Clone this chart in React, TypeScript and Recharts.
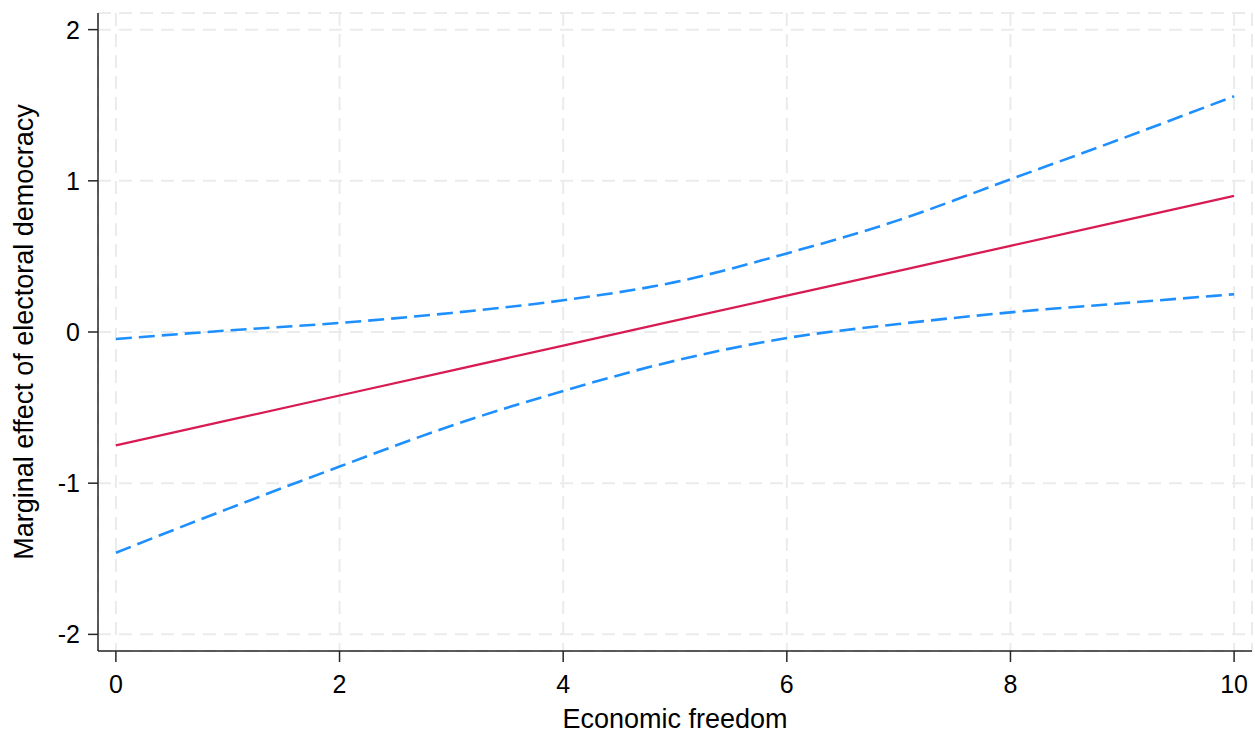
import { CartesianGrid, Line, LineChart, XAxis, YAxis } from 'recharts';

const freedom = [0, 1, 2, 3, 4, 5, 6, 7, 8, 9, 10];
const effect = [-0.75, -0.585, -0.42, -0.255, -0.09, 0.075, 0.24, 0.405, 0.57, 0.735, 0.9];
const upperCi = [-0.046, 0.01, 0.06, 0.126, 0.21, 0.33, 0.52, 0.74, 1.01, 1.28, 1.56];
const lowerCi = [-1.46, -1.17, -0.89, -0.62, -0.39, -0.19, -0.04, 0.053, 0.13, 0.19, 0.25];

const xTicks = [0, 2, 4, 6, 8, 10];
const yTicks = [-2, -1, 0, 1, 2];

const data = freedom.map((x, i) => ({ x, effect: effect[i], upper: upperCi[i], lower: lowerCi[i] }));

const font = '"Liberation Sans", Arial, sans-serif';
const axisColor = '#262626';

export default function App() {
  return (
    <div style={{ position: 'absolute', left: 0, top: 0, background: '#fff', fontFamily: font }}>
      <LineChart width={1255} height={742} data={data} margin={{ top: 13, right: 3, left: 0, bottom: 0 }}>
        <CartesianGrid stroke="#ebebeb" strokeWidth={2} strokeDasharray="13 8" />
        <XAxis
          dataKey="x"
          type="number"
          domain={[-0.16, 10.16]}
          ticks={xTicks}
          height={91}
          tickSize={11}
          tickMargin={13}
          stroke={axisColor}
          strokeWidth={1.5}
          tick={{ fill: '#000', fontSize: 25, fontFamily: font }}
          label={{ value: 'Economic freedom', position: 'insideBottom', offset: 14, fill: '#000', fontSize: 27, fontFamily: font }}
        />
        <YAxis
          type="number"
          domain={[-2.11, 2.11]}
          ticks={yTicks}
          width={98}
          tickSize={10}
          tickMargin={8}
          stroke={axisColor}
          strokeWidth={1.5}
          tick={{ fill: '#000', fontSize: 25, fontFamily: font }}
          label={{
            value: 'Marginal effect of electoral democracy',
            angle: -90,
            position: 'insideLeft',
            offset: 23,
            style: { textAnchor: 'middle' },
            fill: '#000',
            fontSize: 27,
            fontFamily: font,
          }}
        />
        <Line type="monotone" dataKey="upper" stroke="#1e8fff" strokeWidth={2.6} strokeDasharray="16 7" dot={false} isAnimationActive={false} />
        <Line type="monotone" dataKey="lower" stroke="#1e8fff" strokeWidth={2.6} strokeDasharray="16 7" dot={false} isAnimationActive={false} />
        <Line type="linear" dataKey="effect" stroke="#d81b52" strokeWidth={2.3} dot={false} isAnimationActive={false} />
      </LineChart>
    </div>
  );
}
